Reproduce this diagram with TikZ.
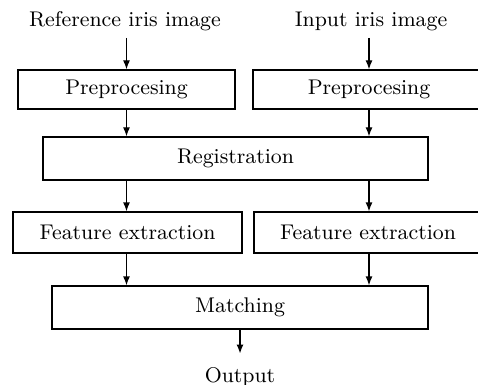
\documentclass[tikz,border=0pt]{standalone}
\usetikzlibrary{arrows.meta}
\begin{document}
\begin{tikzpicture}[x=0.4pt, y=-0.4pt,
  txt/.style={font=\fontsize{8.5}{10}\selectfont},
  blk/.style={txt, draw, line width=0.5pt, inner sep=0pt},
  lbl/.style={txt, inner sep=0pt, anchor=base},
  flow/.style={-{Latex[length=3.6pt,width=2.8pt]}, line width=0.5pt}]
  \useasboundingbox (0,0) rectangle (478,385);
  % inputs
  \node[lbl] (ref) at (125,27) {Reference iris image};
  \node[lbl] (inp) at (371,27) {Input iris image};
  % preprocessing
  \node[blk, minimum width={217*0.4pt}, minimum height={39*0.4pt}] (pre1) at (126.5,89.5) {Preprocesing};
  \node[blk, minimum width={232*0.4pt}, minimum height={39*0.4pt}] (pre2) at (369,89.5) {Preprocesing};
  % registration
  \node[blk, minimum width={385*0.4pt}, minimum height={43*0.4pt}] (reg) at (235.5,158.5) {Registration};
  % features
  \node[blk, minimum width={229*0.4pt}, minimum height={41*0.4pt}] (fe1) at (127.5,232.5) {Feature extraction};
  \node[blk, minimum width={228*0.4pt}, minimum height={41*0.4pt}] (fe2) at (368,232.5) {Feature extraction};
  % matching
  \node[blk, minimum width={376*0.4pt}, minimum height={43*0.4pt}] (match) at (240,307.5) {Matching};
  \node[lbl] (out) at (240,382) {Output};
  % connectors
  \draw[flow, shorten <=2.4pt] (ref.south -| pre1.north) -- (pre1.north);
  \draw[flow, shorten <=2.4pt] (inp.south -| pre2.north) -- (pre2.north);
  \draw[flow] (pre1.south) -- (pre1.south |- reg.north);
  \draw[flow] (pre2.south) -- (pre2.south |- reg.north);
  \draw[flow] (pre1.south |- reg.south) -- (fe1.north -| pre1.south);
  \draw[flow] (pre2.south |- reg.south) -- (fe2.north -| pre2.south);
  \draw[flow] (fe1.south -| pre1.south) -- (pre1.south |- match.north);
  \draw[flow] (fe2.south -| pre2.south) -- (pre2.south |- match.north);
  \draw[flow, shorten >=5.2pt] (match.south) -- (out.north);
\end{tikzpicture}
\end{document}
